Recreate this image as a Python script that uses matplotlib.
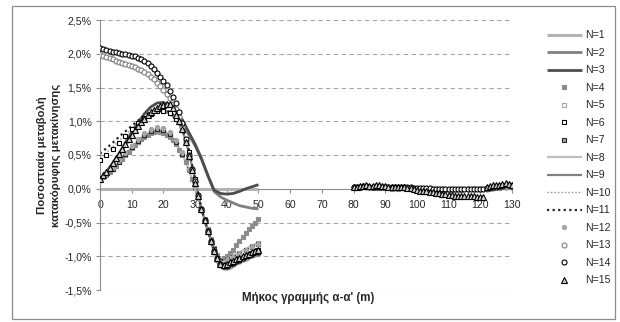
import numpy as np
import matplotlib
matplotlib.use("Agg")
import matplotlib.pyplot as plt
from matplotlib.patches import Rectangle

plt.rcParams['font.family'] = ['Liberation Sans', 'DejaVu Sans']

# ---------------- data (percent) ----------------
x_near = [0, 2, 4, 6, 8, 10, 12, 14, 16, 18, 20, 22, 24, 26, 28, 30,
          32, 34, 36, 38, 40, 42, 44, 46, 48, 50]
x_near1 = list(range(0, 51))
x_far = [80, 82, 84, 86, 88, 90, 92, 94, 96, 98, 100, 102, 104, 106, 108,
         110, 112, 114, 116, 118, 120, 122, 124, 126, 128, 130]
x_far1 = list(range(80, 131))

n1 = [0.0] * 26
n2 = [0.15, 0.24, 0.36, 0.50, 0.64, 0.78, 0.92, 1.03, 1.11, 1.15, 1.15, 1.12, 1.05,
      0.95, 0.80, 0.64, 0.44, 0.20, -0.04, -0.12, -0.17, -0.21, -0.25, -0.27, -0.29, -0.30]
n3 = [0.15, 0.25, 0.38, 0.52, 0.68, 0.84, 0.98, 1.11, 1.21, 1.27, 1.28, 1.24, 1.15,
      1.02, 0.84, 0.66, 0.45, 0.20, -0.02, -0.07, -0.08, -0.07, -0.04, 0.00, 0.03, 0.06]
n4 = [0.15, 0.18, 0.21, 0.25, 0.29, 0.34, 0.39, 0.44, 0.50, 0.55, 0.60, 0.65, 0.69,
      0.73, 0.77, 0.80, 0.82, 0.84, 0.85, 0.84, 0.83, 0.80, 0.77, 0.72, 0.66, 0.58,
      0.50, 0.40, 0.28, 0.15, 0.02, -0.14, -0.30, -0.45, -0.60, -0.74, -0.88, -0.98,
      -1.06, -1.03, -1.00, -0.95, -0.90, -0.84, -0.78, -0.72, -0.66, -0.60, -0.55, -0.50, -0.45]
n5 = [0.15, 0.22, 0.31, 0.41, 0.52, 0.63, 0.72, 0.80, 0.86, 0.89, 0.88, 0.82, 0.70,
      0.53, 0.30, 0.03, -0.30, -0.61, -0.90, -1.08, -1.05, -1.00, -0.95, -0.90, -0.85, -0.80]
n6 = [0.42, 0.50, 0.59, 0.68, 0.78, 0.88, 0.97, 1.05, 1.11, 1.15, 1.15, 1.12, 1.04,
      0.88, 0.55, 0.14, -0.30, -0.62, -0.92, -1.12, -1.13, -1.08, -1.03, -0.99, -0.95, -0.91]
n7 = [0.15, 0.22, 0.30, 0.40, 0.51, 0.62, 0.71, 0.79, 0.85, 0.88, 0.87, 0.81, 0.69,
      0.52, 0.29, 0.02, -0.30, -0.61, -0.89, -1.07, -1.06, -1.01, -0.96, -0.91, -0.86, -0.82]
n8 = [0.15, 0.21, 0.30, 0.40, 0.51, 0.61, 0.70, 0.78, 0.84, 0.87, 0.86, 0.80, 0.68,
      0.51, 0.29, 0.02, -0.30, -0.60, -0.89, -1.07, -1.05, -1.00, -0.94, -0.89, -0.84, -0.80]
n9 = [0.15, 0.25, 0.37, 0.50, 0.64, 0.78, 0.91, 1.02, 1.10, 1.15, 1.16, 1.12, 1.03,
      0.87, 0.55, 0.14, -0.30, -0.62, -0.92, -1.11, -1.12, -1.07, -1.02, -0.98, -0.94, -0.90]
n10 = [0.45, 0.53, 0.62, 0.71, 0.80, 0.89, 0.98, 1.05, 1.11, 1.15, 1.16, 1.12, 1.04,
       0.88, 0.56, 0.14, -0.30, -0.62, -0.92, -1.12, -1.13, -1.08, -1.03, -0.99, -0.95, -0.91]
n11 = [0.52, 0.60, 0.68, 0.77, 0.85, 0.93, 1.01, 1.08, 1.14, 1.18, 1.18, 1.14, 1.06,
       0.90, 0.58, 0.15, -0.30, -0.62, -0.92, -1.12, -1.13, -1.08, -1.03, -0.99, -0.95, -0.91]
n12 = [0.15, 0.22, 0.31, 0.42, 0.53, 0.64, 0.74, 0.82, 0.88, 0.91, 0.90, 0.84, 0.72,
       0.54, 0.30, 0.03, -0.30, -0.61, -0.90, -1.08, -1.06, -1.01, -0.96, -0.91, -0.86, -0.82]
n13 = [1.98, 1.96, 1.95, 1.93, 1.92, 1.90, 1.88, 1.87, 1.85, 1.83, 1.82, 1.80, 1.78,
       1.76, 1.73, 1.70, 1.66, 1.62, 1.57, 1.52, 1.47, 1.41, 1.34, 1.26, 1.18, 1.06,
       0.92, 0.70, 0.47, 0.28, 0.10, -0.11, -0.32, -0.48, -0.64, -0.79, -0.94, -1.05,
       -1.13, -1.16, -1.16, -1.14, -1.12, -1.09, -1.07, -1.04, -1.02, -1.00, -0.98, -0.96, -0.95]
n14 = [2.08, 2.07, 2.05, 2.04, 2.03, 2.02, 2.01, 2.00, 1.99, 1.98, 1.97, 1.96, 1.94,
       1.92, 1.90, 1.86, 1.82, 1.77, 1.72, 1.66, 1.60, 1.53, 1.45, 1.36, 1.27, 1.13,
       0.97, 0.74, 0.50, 0.30, 0.12, -0.09, -0.30, -0.46, -0.62, -0.77, -0.92, -1.03,
       -1.12, -1.15, -1.15, -1.12, -1.10, -1.07, -1.05, -1.02, -1.00, -0.98, -0.96, -0.94, -0.93]
n15 = [0.15, 0.20, 0.25, 0.31, 0.38, 0.45, 0.52, 0.59, 0.66, 0.73, 0.80, 0.87, 0.93,
       0.99, 1.04, 1.09, 1.13, 1.16, 1.19, 1.22, 1.24, 1.26, 1.26, 1.20, 1.10, 1.00,
       0.88, 0.70, 0.48, 0.28, 0.08, -0.11, -0.30, -0.46, -0.62, -0.77, -0.92, -1.03,
       -1.12, -1.13, -1.12, -1.09, -1.07, -1.04, -1.02, -1.00, -0.98, -0.96, -0.94, -0.92, -0.90]

n4_far = [0.01, 0.01, 0.02, 0.01, 0.01, 0.01, 0.00, 0.00, 0.01, 0.00, 0.00, -0.01, 0.00,
          -0.01, -0.01, -0.01, -0.01, -0.01, -0.01, 0.00, 0.00, 0.00, 0.01, 0.01, 0.02, 0.02]
n13_far = [0.02, 0.02, 0.03, 0.02, 0.02, 0.02, 0.01, 0.01, 0.02, 0.01, 0.00, 0.00, 0.00,
           -0.01, -0.01, -0.02, -0.02, -0.02, -0.01, -0.01, -0.01, 0.00, 0.01, 0.02, 0.03, 0.02]
n14_far = [0.03, 0.03, 0.03, 0.04, 0.04, 0.03, 0.03, 0.03, 0.03, 0.03, 0.03, 0.02, 0.02,
           0.03, 0.02, 0.02, 0.02, 0.02, 0.02, 0.01, 0.01, 0.01, 0.01, 0.01, 0.01, 0.00,
           0.00, 0.00, 0.00, 0.00, 0.00, 0.00, -0.01, -0.01, -0.01, -0.01, 0.00, 0.00,
           0.00, 0.00, 0.00, 0.00, 0.01, 0.01, 0.02, 0.03, 0.04, 0.04, 0.05, 0.05, 0.04]
n15_far = [0.03, 0.03, 0.04, 0.04, 0.05, 0.04, 0.04, 0.05, 0.05, 0.04, 0.04, 0.03, 0.03,
           0.03, 0.03, 0.02, 0.02, 0.01, 0.01, 0.00, -0.02, -0.03, -0.04, -0.04, -0.05,
           -0.05, -0.06, -0.07, -0.08, -0.08, -0.09, -0.09, -0.10, -0.10, -0.10, -0.11,
           -0.11, -0.11, -0.11, -0.12, -0.12, -0.12, 0.03, 0.04, 0.05, 0.05, 0.06, 0.07,
           0.08, 0.07, 0.05]

labels = ['N=%d' % i for i in range(1, 16)]
y_ticks = [-1.5, -1.0, -0.5, 0.0, 0.5, 1.0, 1.5, 2.0, 2.5]
x_ticks = [0, 10, 20, 30, 40, 50, 60, 70, 80, 90, 100, 110, 120, 130]
x_label = "Μήκος γραμμής α-α' (m)"
y_label = "Ποσοστιαία μεταβολή\nκατακόρυφης μετακίνησης"

# ---------------- figure ----------------
fig = plt.figure(figsize=(6.2, 3.22), dpi=100)
fig.patch.set_facecolor('white')
fig.add_artist(Rectangle((11.5 / 620, 3 / 322), (615 - 11.5) / 620, (316 - 3) / 322,
                         transform=fig.transFigure, fill=False, edgecolor='#8c8c8c', lw=0.9))

ax = fig.add_axes([100 / 620, 1 - 290 / 322, 412 / 620, 270 / 322])
ax.set_xlim(0, 130)
ax.set_ylim(-1.5, 2.5)

for yt in y_ticks:
    if yt != 0:
        ax.axhline(yt, color='#a6a6a6', lw=0.8, ls=(0, (4, 3)), zorder=0)

line_kw = dict(solid_capstyle='butt', zorder=2)
handles = []
h, = ax.plot(x_near, n1, color='#b3b3b3', lw=2.2, **line_kw); handles.append(h)
h, = ax.plot(x_near, n2, color='#808080', lw=2.0, **line_kw); handles.append(h)
h, = ax.plot(x_near, n3, color='#4d4d4d', lw=2.0, **line_kw); handles.append(h)

ms = 3.6
def mk(xs, ys, marker, fc, ec, size=ms, mew=0.8):
    h, = ax.plot(xs, ys, ls='none', marker=marker, ms=size, mfc=fc, mec=ec, mew=mew, zorder=3)
    return h

h = mk(x_near1, n4, 's', '#8c8c8c', '#8c8c8c', 3.2); mk(x_far, n4_far, 's', '#8c8c8c', '#8c8c8c', 3.2); handles.append(h)
h = mk(x_near, n5, 's', 'white', '#a6a6a6', 3.2); handles.append(h)
h = mk(x_near, n6, 's', 'white', '#000000', 3.2); handles.append(h)
h = mk(x_near, n7, 's', '#a6a6a6', '#262626', 3.2); handles.append(h)
h, = ax.plot(x_near, n8, color='#bfbfbf', lw=1.6, **line_kw); handles.append(h)
h, = ax.plot(x_near, n9, color='#808080', lw=1.6, **line_kw); handles.append(h)
h, = ax.plot(x_near, n10, color='#8c8c8c', lw=1.0, ls=(0, (1, 1.5)), zorder=2); handles.append(h)
h, = ax.plot(x_near, n11, color='#262626', lw=1.6, ls=(0, (1, 1.5)), zorder=2); handles.append(h)
h = mk(x_near, n12, 'o', '#a6a6a6', '#a6a6a6', 3.0); handles.append(h)
h = mk(x_near1, n13, 'o', 'white', '#7f7f7f', ms); mk(x_far, n13_far, 'o', 'white', '#7f7f7f', ms); handles.append(h)
h = mk(x_near1, n14, 'o', 'white', '#000000', ms); mk(x_far1, n14_far, 'o', 'white', '#000000', ms); handles.append(h)
h = mk(x_near1, n15, '^', '#d0d0d0', '#000000', 4.0); mk(x_far1, n15_far, '^', '#d0d0d0', '#000000', 4.0); handles.append(h)

# axes styling
for s in ['top', 'right']:
    ax.spines[s].set_visible(False)
ax.spines['left'].set_color('#8c8c8c')
ax.spines['bottom'].set_color('#8c8c8c')
ax.spines['bottom'].set_position(('data', 0))
ax.spines['bottom'].set_zorder(1)
ax.set_yticks(y_ticks)
ax.set_yticklabels([('%.1f%%' % v).replace('.', ',') for v in y_ticks])
ax.set_xticks(x_ticks)
ax.set_xticklabels([str(v) for v in x_ticks])
ax.tick_params(axis='both', labelsize=7.6, colors='#8c8c8c', labelcolor='#262626', length=3, width=0.8)
ax.tick_params(axis='x', pad=5)
ax.tick_params(axis='y', pad=3)

ax.set_ylabel(y_label, fontsize=8.2, fontweight='bold', color='#262626', linespacing=1.5)
ax.yaxis.set_label_coords(-0.095, 0.5)
fig.text(308 / 620, 1 - 298 / 322, x_label, fontsize=8.3, fontweight='bold',
         color='#262626', ha='center', va='center')

leg = fig.legend(handles, labels, loc='upper left', bbox_to_anchor=(547 / 620, 1 - 30.5 / 322),
                 frameon=False, fontsize=7.6, handlelength=3.3, handletextpad=0.3,
                 labelspacing=0.71, borderpad=0, borderaxespad=0)
for t in leg.get_texts():
    t.set_color('#262626')

fig.savefig('out.png', dpi=100, facecolor='white')
